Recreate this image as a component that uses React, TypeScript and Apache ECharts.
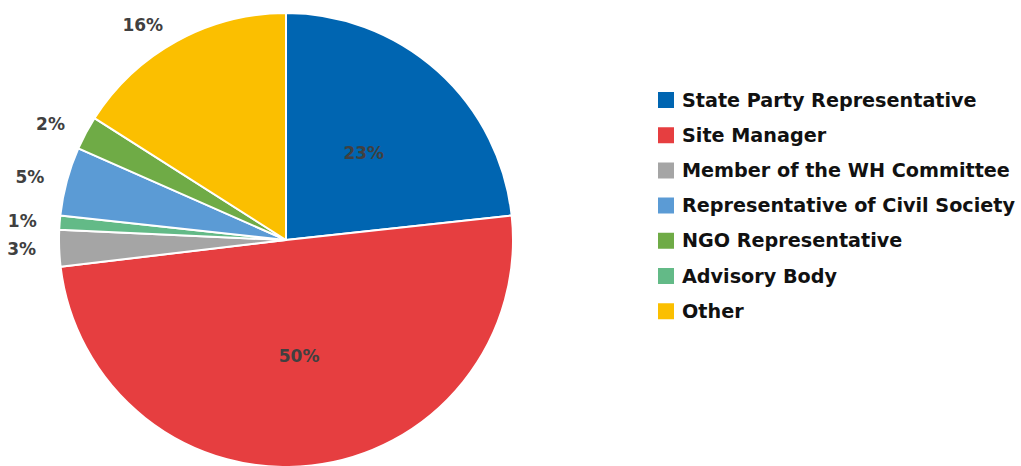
import React, { useEffect, useRef } from "react";
import * as echarts from "echarts";

const categories = [
  "State Party Representative",
  "Site Manager",
  "Member of the WH Committee",
  "Representative of Civil Society",
  "NGO Representative",
  "Advisory Body",
  "Other",
];
const values = [23.3, 49.9, 2.6, 4.9, 2.4, 1.0, 16.0];
// drawing order clockwise from top
const sliceOrder = [0, 1, 2, 5, 3, 4, 6];
const colors = ["#0065B1", "#E63E40", "#A5A5A5", "#5B9BD5", "#6FAB46", "#63BA87", "#FBBF00"];
const insideLabelThreshold = 20;

export default function App() {
  const ref = useRef<HTMLDivElement>(null);
  useEffect(() => {
    if (!ref.current) return;
    const chart = echarts.init(ref.current, null, { renderer: "svg" });
    const data = sliceOrder.map((i) => ({
      name: categories[i],
      value: values[i],
      itemStyle: { color: colors[i] },
      label: { position: values[i] >= insideLabelThreshold ? "inside" : "outside" },
    }));
    chart.setOption({
      animation: false,
      backgroundColor: "#ffffff",
      legend: {
        orient: "vertical",
        left: 656,
        top: 90,
        padding: 0,
        itemWidth: 18,
        itemHeight: 18,
        itemGap: 15.2,
        icon: "rect",
        data: categories,
        textStyle: {
          fontFamily: "DejaVu Sans",
          fontWeight: "bold",
          fontSize: 19.2,
          lineHeight: 18,
          height: 18,
          color: "#111111",
          padding: [0, 0, 0, 2],
        },
      },
      series: [
        {
          type: "pie",
          center: [286, 240],
          radius: 227,
          startAngle: 90,
          clockwise: true,
          avoidLabelOverlap: false,
          itemStyle: { borderColor: "#ffffff", borderWidth: 2 },
          label: {
            fontFamily: "DejaVu Sans",
            fontWeight: "bold",
            fontSize: 17,
            color: "#404040",
            distanceToLabelLine: 5,
            formatter: (p: any) => Math.round(p.percent) + "%",
          },
          labelLine: { show: false, length: 18, length2: 0 },
          emphasis: { disabled: true },
          data,
        },
      ],
    });
    return () => chart.dispose();
  }, []);
  return (
    <div
      ref={ref}
      style={{ position: "fixed", left: 0, top: 0, width: 1021, height: 466 }}
    />
  );
}
